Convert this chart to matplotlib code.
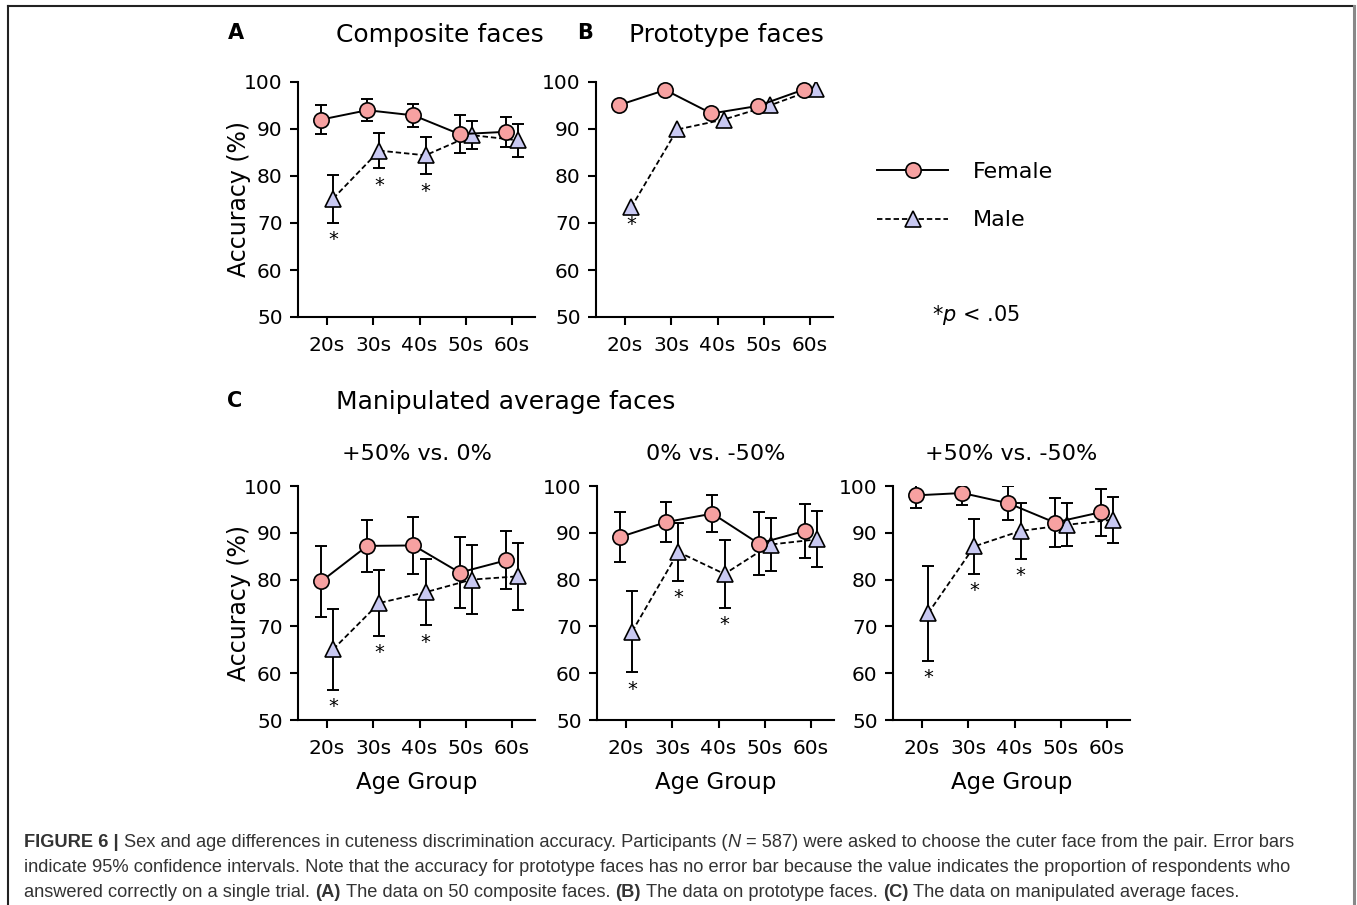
import numpy as np
import matplotlib
matplotlib.use("Agg")
import matplotlib.pyplot as plt
from matplotlib.lines import Line2D

W, H = 1357, 905

groups = ["20s", "30s", "40s", "50s", "60s"]

# (A) composite faces
comp_f = [92.0, 94.0, 92.9, 88.9, 89.4]
comp_f_ci = [3.0, 2.4, 2.5, 4.1, 3.2]
comp_m = [75.2, 85.4, 84.4, 88.7, 87.6]
comp_m_ci = [5.1, 3.8, 4.0, 2.9, 3.5]
comp_sig = [True, True, True, False, False]

# (B) prototype faces, single trial -> no CI
proto_f = [95.1, 98.3, 93.3, 94.9, 98.4]
proto_m = [73.3, 89.9, 92.0, 95.0, 98.6]
proto_sig = [True, False, False, False, False]

# (C) manipulated average faces
p50_0_f = [79.6, 87.2, 87.3, 81.5, 84.1]
p50_0_f_ci = [7.6, 5.6, 6.0, 7.6, 6.2]
p50_0_m = [65.1, 75.0, 77.3, 80.0, 80.7]
p50_0_m_ci = [8.7, 7.0, 7.1, 7.4, 7.2]
p50_0_sig = [True, True, True, False, False]

z_m50_f = [89.1, 92.3, 94.1, 87.7, 90.4]
z_m50_f_ci = [5.4, 4.3, 3.9, 6.8, 5.7]
z_m50_m = [68.9, 85.9, 81.2, 87.5, 88.6]
z_m50_m_ci = [8.7, 6.2, 7.2, 5.7, 6.0]
z_m50_sig = [True, True, True, False, False]

p50_m50_f = [98.0, 98.5, 96.3, 92.2, 94.4]
p50_m50_f_ci = [2.6, 2.5, 3.6, 5.2, 5.0]
p50_m50_m = [72.8, 87.1, 90.4, 91.7, 92.8]
p50_m50_m_ci = [10.2, 5.9, 6.0, 4.6, 4.9]
p50_m50_sig = [True, True, True, False, False]

F_COLOR = "#f7a1a1"
M_COLOR = "#c9c9f2"
OFF = 0.13


def px_axes(fig, left, top, right, bottom):
    return fig.add_axes([left / W, 1 - bottom / H, (right - left) / W, (bottom - top) / H])


def panel(ax, fem, male, fem_ci, male_ci, sig, ylabel=False, xlabel=False):
    x = np.arange(len(groups))
    xf, xm = x - OFF, x + OFF
    if fem_ci is not None:
        ax.errorbar(xf, fem, yerr=fem_ci, fmt="none", ecolor="black",
                    elinewidth=1.4, capsize=4, capthick=1.4, zorder=2)
        ax.errorbar(xm, male, yerr=male_ci, fmt="none", ecolor="black",
                    elinewidth=1.4, capsize=4, capthick=1.4, zorder=2)
    lf, = ax.plot(xf, fem, "-", color="black", lw=1.4, marker="o", ms=11,
                  mfc=F_COLOR, mec="black", mew=1.2, zorder=4)
    lm, = ax.plot(xm, male, color="black", lw=1.3, ls=(0, (3, 1.6)), marker="^",
                  ms=12, mfc=M_COLOR, mec="black", mew=1.2, zorder=3)
    for i, s in enumerate(sig):
        if s:
            low = male[i] - (male_ci[i] if male_ci is not None else 0)
            ax.text(xm[i], low - 3.6, "*", ha="center", va="center", fontsize=14)
    ax.set_ylim(50, 100)
    ax.set_xlim(-0.63, 4.5)
    ax.set_yticks(range(50, 101, 10))
    ax.set_xticks(x)
    ax.set_xticklabels(groups)
    for sp in ("top", "right"):
        ax.spines[sp].set_visible(False)
    for sp in ("left", "bottom"):
        ax.spines[sp].set_linewidth(1.5)
    ax.tick_params(direction="out", length=6, width=1.5, labelsize=14.5, pad=5)
    ax.tick_params(axis="x", labelsize=14.5, pad=8)
    if ylabel:
        ax.set_ylabel("Accuracy (%)", fontsize=17, labelpad=-5)
    if xlabel:
        ax.set_xlabel("Age Group", fontsize=16.5, labelpad=9)
    return lf, lm


fig = plt.figure(figsize=(W / 100, H / 100), dpi=100)

axA = px_axes(fig, 298, 82, 535, 317)
lf, lm = panel(axA, comp_f, comp_m, comp_f_ci, comp_m_ci, comp_sig, ylabel=True)
axB = px_axes(fig, 596, 82, 833, 317)
panel(axB, proto_f, proto_m, None, None, proto_sig)

axC1 = px_axes(fig, 298, 486, 535, 720)
panel(axC1, p50_0_f, p50_0_m, p50_0_f_ci, p50_0_m_ci, p50_0_sig, ylabel=True, xlabel=True)
axC2 = px_axes(fig, 597, 486, 834, 720)
panel(axC2, z_m50_f, z_m50_m, z_m50_f_ci, z_m50_m_ci, z_m50_sig, xlabel=True)
axC3 = px_axes(fig, 893, 486, 1130, 720)
panel(axC3, p50_m50_f, p50_m50_m, p50_m50_f_ci, p50_m50_m_ci, p50_m50_sig, xlabel=True)

axC1.set_title("+50% vs. 0%", fontsize=16, pad=19)
axC2.set_title("0% vs. -50%", fontsize=16, pad=19)
axC3.set_title("+50% vs. -50%", fontsize=16, pad=19)

# panel letters and headings
def ftext(x, y, s, **kw):
    return fig.text(x / W, 1 - y / H, s, **kw)

ftext(236, 33, "A", fontsize=15, fontweight="bold", ha="center", va="center")
ftext(585, 33, "B", fontsize=15, fontweight="bold", ha="center", va="center")
ftext(235, 401, "C", fontsize=15, fontweight="bold", ha="center", va="center")
ftext(336, 35, "Composite faces", fontsize=18, ha="left", va="center")
ftext(629, 35, "Prototype faces", fontsize=18, ha="left", va="center")
ftext(336, 402, "Manipulated average faces", fontsize=18, ha="left", va="center")

fig.legend([lf, lm], ["Female", "Male"], loc="upper left",
           bbox_to_anchor=(877 / W, 1 - 162 / H), frameon=False, fontsize=16,
           handlelength=3.2, handletextpad=1.1, labelspacing=1.28,
           borderpad=0, borderaxespad=0)
ftext(976, 315, r"*$\it{p}$ < .05", fontsize=15, ha="center", va="center")

# outer frame
fig.add_artist(Line2D([8 / W, 8 / W], [0, 1 - 6 / H], color="#222222", lw=1.5))
fig.add_artist(Line2D([8 / W, 1354 / W], [1 - 6 / H, 1 - 6 / H], color="#222222", lw=1.5))
fig.add_artist(Line2D([1354 / W, 1354 / W], [0, 1 - 6 / H], color="#888888", lw=2.2))

# caption with mixed styles
cap_lines = [
    [("FIGURE 6 |", "bold", "normal"),
     ("Sex and age differences in cuteness discrimination accuracy. Participants (", "normal", "normal"),
     ("N", "normal", "italic"),
     ("= 587) were asked to choose the cuter face from the pair. Error bars", "normal", "normal")],
    [("indicate 95% confidence intervals. Note that the accuracy for prototype faces has no error bar because the value indicates the proportion of respondents who", "normal", "normal")],
    [("answered correctly on a single trial.", "normal", "normal"),
     ("(A)", "bold", "normal"),
     ("The data on 50 composite faces.", "normal", "normal"),
     ("(B)", "bold", "normal"),
     ("The data on prototype faces.", "normal", "normal"),
     ("(C)", "bold", "normal"),
     ("The data on manipulated average faces.", "normal", "normal")],
]
cap_y = [847, 872, 897]
cap_font = ["Liberation Sans Narrow", "Liberation Sans", "DejaVu Sans"]
cap_size = 13.15
renderer = fig.canvas.get_renderer()
probe1 = fig.text(0, 0, "x x", fontsize=cap_size, family=cap_font)
probe2 = fig.text(0, 0, "xx", fontsize=cap_size, family=cap_font)
space_w = probe1.get_window_extent(renderer).width - probe2.get_window_extent(renderer).width
probe1.remove()
probe2.remove()
for line, yb in zip(cap_lines, cap_y):
    x = 24.0
    for k, (s, wgt, sty) in enumerate(line):
        # no gap right after an opening parenthesis
        if k > 0 and not line[k - 1][0].endswith("("):
            x += space_w
        t = fig.text(x / W, 1 - yb / H, s, fontsize=cap_size, family=cap_font,
                     fontweight=wgt, fontstyle=sty, color="#333333", ha="left", va="baseline")
        x += t.get_window_extent(renderer).width

fig.savefig("out.png", dpi=100)
